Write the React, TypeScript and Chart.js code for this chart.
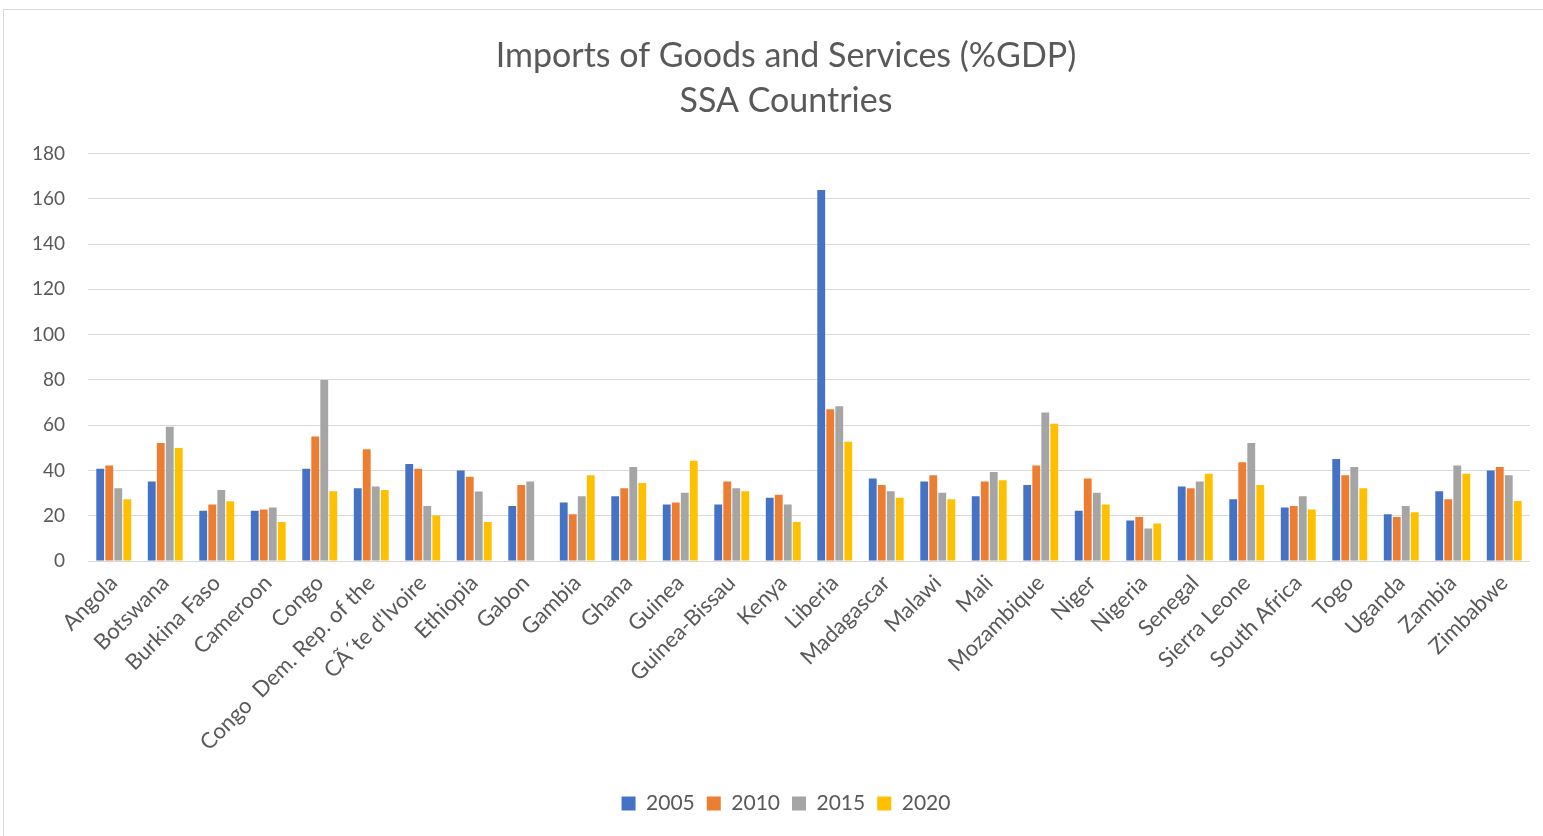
import React, { useEffect, useRef } from "react";
import { Chart, registerables } from "chart.js";

Chart.register(...registerables);

const countries = [
  "Angola", "Botswana", "Burkina Faso", "Cameroon", "Congo", "Congo  Dem. Rep. of the",
  "CÃ´te d'Ivoire", "Ethiopia", "Gabon", "Gambia", "Ghana", "Guinea", "Guinea-Bissau",
  "Kenya", "Liberia", "Madagascar", "Malawi", "Mali", "Mozambique", "Niger", "Nigeria",
  "Senegal", "Sierra Leone", "South Africa", "Togo", "Uganda", "Zambia", "Zimbabwe",
];

const years = ["2005", "2010", "2015", "2020"];

const v2005 = [40.7, 35.1, 22.2, 22.2, 40.7, 32.1, 42.8, 40.0, 24.3, 25.8, 28.6, 25.0, 25.0, 27.9, 163.9, 36.4, 35.1, 28.6, 33.6, 22.2, 17.9, 32.9, 27.3, 23.6, 45.0, 20.7, 30.8, 40.0];
const v2010 = [42.2, 52.1, 25.0, 22.8, 55.0, 49.3, 40.7, 37.2, 33.6, 20.7, 32.1, 25.8, 35.1, 29.3, 67.0, 33.6, 37.9, 35.1, 42.2, 36.4, 19.4, 32.1, 43.6, 24.3, 37.9, 19.4, 27.3, 41.5];
const v2015 = [32.1, 59.3, 31.4, 23.6, 79.9, 32.9, 24.3, 30.7, 35.1, 28.6, 41.5, 30.1, 32.1, 25.0, 68.4, 30.8, 30.1, 39.3, 65.6, 30.1, 14.4, 35.1, 52.1, 28.6, 41.5, 24.3, 42.2, 37.9];
const v2020 = [27.3, 49.9, 26.4, 17.2, 30.8, 31.4, 20.1, 17.2, null, 37.9, 34.4, 44.3, 30.8, 17.2, 52.7, 27.9, 27.3, 35.7, 60.6, 25.0, 16.6, 38.5, 33.6, 22.8, 32.1, 21.5, 38.5, 26.5];

const yMin = 0;
const yMax = 180;
const yStep = 20;

const titleLines = ["Imports of Goods and Services (%GDP)", "SSA Countries"];

const colors = ["#4472C4", "#ED7D31", "#A5A5A5", "#FFC000"];
const textColor = "#595959";
const gridColor = "#d9d9d9";
const fontFamily = "Lato, 'Open Sans', sans-serif";

export default function App() {
  const canvasRef = useRef<HTMLCanvasElement | null>(null);

  useEffect(() => {
    const canvas = canvasRef.current;
    if (!canvas) return;
    const series = [v2005, v2010, v2015, v2020];
    const chart = new Chart(canvas, {
      type: "bar",
      data: {
        labels: countries,
        datasets: years.map((y, i) => ({
          label: y,
          data: series[i],
          backgroundColor: colors[i],
          borderWidth: 0,
          categoryPercentage: 0.7,
          barPercentage: 0.87,
        })),
      },
      options: {
        animation: false,
        responsive: true,
        maintainAspectRatio: false,
        layout: { padding: { left: 42, right: 13, top: 0, bottom: 12 } },
        plugins: {
          tooltip: { enabled: false },
          title: {
            display: true,
            text: titleLines,
            color: textColor,
            font: { family: fontFamily, size: 34, weight: "normal", lineHeight: 1.33 },
            padding: { top: 33, bottom: 30 },
          },
          legend: {
            display: true,
            position: "bottom",
            labels: {
              color: textColor,
              font: { family: fontFamily, size: 21 },
              boxWidth: 14,
              boxHeight: 14,
              padding: 12,
            },
          },
        },
        scales: {
          x: {
            grid: { display: false, drawTicks: false },
            border: { display: false },
            ticks: {
              autoSkip: false,
              minRotation: 45,
              maxRotation: 45,
              padding: 9,
              color: textColor,
              font: { family: fontFamily, size: 22 },
            },
            afterFit: (s: any) => {
              s.height = 220;
            },
          },
          y: {
            min: yMin,
            max: yMax,
            grid: { color: gridColor, lineWidth: 1, drawTicks: false },
            border: { display: false },
            ticks: {
              stepSize: yStep,
              padding: 23,
              color: textColor,
              font: { family: fontFamily, size: 19 },
            },
            afterFit: (s: any) => {
              s.width = 46;
              // let the tick labels extend into the left layout padding
              s._computeLabelArea = () => undefined;
            },
          },
        },
      },
    });
    return () => chart.destroy();
  }, []);

  return (
    <div style={{ position: "fixed", left: 0, top: 0, width: 1543, height: 836, overflow: "hidden", background: "#fff" }}>
      <div
        style={{
          position: "absolute",
          left: 3,
          top: 9,
          width: 1580,
          height: 880,
          border: "1px solid #d9d9d9",
        }}
      />
      <div style={{ position: "absolute", left: 0, top: 0, width: 1543, height: 836 }}>
        <canvas ref={canvasRef} />
      </div>
    </div>
  );
}
